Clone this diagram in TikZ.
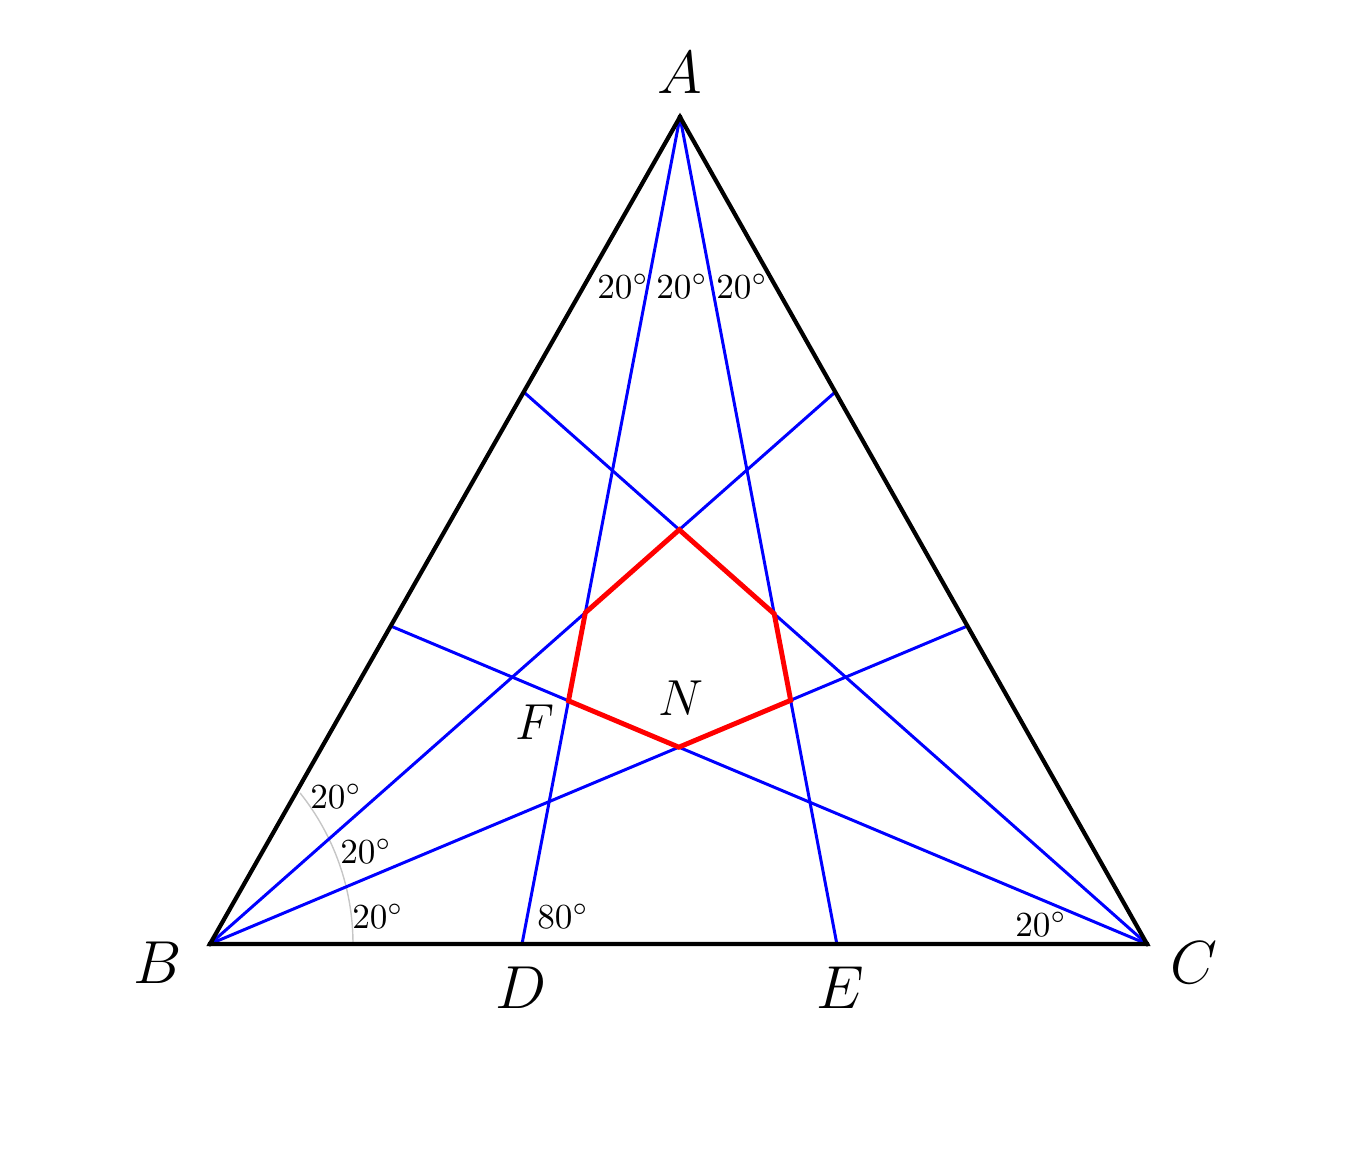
\documentclass[tikz,border=0pt]{standalone}
\usetikzlibrary{calc}

\tikzset{
    side/.style={line width=1.2pt, black},
    trisector/.style={line width=0.85pt, blue},
    hexline/.style={line width=1.4pt, red, line join=miter},
    vlabel/.style={font=\LARGE},
    anglabel/.style={font=\normalsize, inner sep=1pt}
}

\begin{document}
\begin{tikzpicture}[x=0.01cm, y=-0.01cm]

    \useasboundingbox (0,0) rectangle (1353,1163);

    % Vertices
    \coordinate (A) at (680,117);
    \coordinate (B) at (210,944);
    \coordinate (C) at (1147,944);

    % Feet of the trisectors
    \coordinate (D) at ($(B)!0.333!(C)$);
    \coordinate (E) at ($(B)!0.669!(C)$);
    \coordinate (Bt1) at ($(A)!0.3325!(C)$);
    \coordinate (Bt2) at ($(A)!0.6155!(C)$);
    \coordinate (Ct1) at ($(A)!0.3325!(B)$);
    \coordinate (Ct2) at ($(A)!0.6155!(B)$);

    % Angle arc at B
    \draw[gray!45, line width=0.4pt] ($(B)+(143,0)$) arc[start angle=0, end angle=-38.6, radius=242];

    % Trisectors
    \draw[trisector] (A) -- (D);
    \draw[trisector] (A) -- (E);
    \draw[trisector] (B) -- (Bt1);
    \draw[trisector] (B) -- (Bt2);
    \draw[trisector] (C) -- (Ct1);
    \draw[trisector] (C) -- (Ct2);

    % Triangle
    \draw[side] (A) -- (B) -- (C) -- cycle;
    \foreach \v in {A,B,C}
        \fill (\v) circle (2.5);

    % Hexagon
    \coordinate (H1) at (intersection of B--Bt1 and C--Ct1);
    \coordinate (H2) at (intersection of A--E and C--Ct1);
    \coordinate (H3) at (intersection of A--E and B--Bt2);
    \coordinate (H4) at (intersection of B--Bt2 and C--Ct2);
    \coordinate (H5) at (intersection of A--D and C--Ct2);
    \coordinate (H6) at (intersection of A--D and B--Bt1);
    \draw[hexline] (H1) -- (H2) -- (H3) -- (H4) -- (H5) -- (H6) -- cycle;

    % Vertex labels
    \node[vlabel] (lA) at (680,73) {$A$};
    \node[vlabel] (lB) at (158,963) {$B$};
    \node[vlabel] (lC) at (1194,963) {$C$};
    \node[vlabel] (lD) at (521,988) {$D$};
    \node[vlabel] (lE) at (840,988) {$E$};
    \node[vlabel, font=\Large] (lF) at (535,722) {$F$};
    \node[vlabel, font=\Large] (lN) at (681,698) {$N$};

    % Angle labels
    \node[anglabel] (aA1) at (623,286) {$20^\circ$};
    \node[anglabel] (aA2) at (682,286) {$20^\circ$};
    \node[anglabel] (aA3) at (742,286) {$20^\circ$};
    \node[anglabel] (aB1) at (336,796) {$20^\circ$};
    \node[anglabel] (aB2) at (366,851) {$20^\circ$};
    \node[anglabel] (aB3) at (378,916) {$20^\circ$};
    \node[anglabel] (aD) at (563,916) {$80^\circ$};
    \node[anglabel] (aC) at (1041,924) {$20^\circ$};

\end{tikzpicture}
\end{document}
